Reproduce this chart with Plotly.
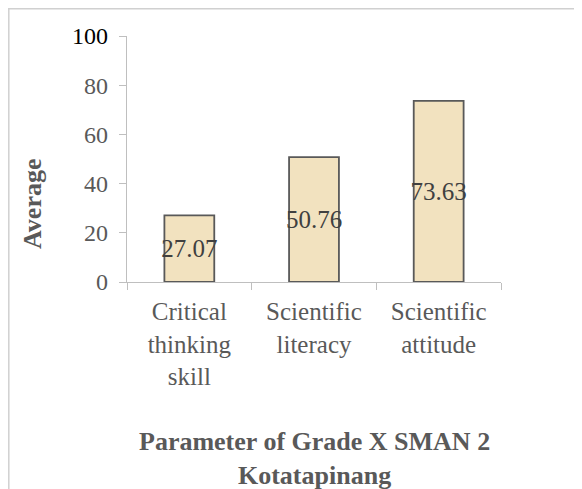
import plotly.graph_objects as go

categories = ["Critical<br>thinking<br>skill", "Scientific<br>literacy", "Scientific<br>attitude"]
values = [27.07, 50.76, 73.63]
value_labels = ["27.07", "50.76", "73.63"]
y_ticks = [0, 20, 40, 60, 80, 100]
y_tick_labels = ["0", "20", "40", "60", "80", '<span style="color:#000000">100</span>']

# the page body has a default 8px margin; compensate so the picture matches pixel positions
OFF = 8
W, H = 582 - OFF, 489 - OFF
L, R, T, B = 127 - OFF, 81, 36 - OFF, 207
pw, ph = W - L - R, H - T - B

def px(x):
    return (x - OFF - L) / pw

def py(y):
    return (H - B - (y - OFF)) / ph

FONT = "Liberation Serif"

fig = go.Figure()
fig.add_trace(go.Bar(
    x=categories, y=values, width=0.4,
    marker=dict(color="#F2E2BF", line=dict(color="#595959", width=1.8)),
    text=value_labels, textposition="inside", insidetextanchor="middle",
    constraintext="none", textangle=0,
    textfont=dict(family=FONT, size=25, color="#404040"),
    hoverinfo="skip",
))

EDGE = OFF + 0.8
fig.update_layout(
    width=W, height=H,
    margin=dict(l=L, r=R, t=T, b=B, pad=0),
    paper_bgcolor="white", plot_bgcolor="white",
    showlegend=False,
    font=dict(family=FONT, color="#595959"),
    xaxis=dict(
        type="category", range=[-0.5, 2.5],
        showline=True, linecolor="#BFBFBF", linewidth=1.3,
        ticks="outside", ticklen=7, tickcolor="#BFBFBF", tickwidth=1.3,
        tickson="boundaries", showgrid=False,
        tickfont=dict(family=FONT, size=25, color="#595959"),
        ticklabelstandoff=7,
    ),
    yaxis=dict(
        range=[0, 100], tickvals=y_ticks, ticktext=y_tick_labels,
        showline=True, linecolor="#BFBFBF", linewidth=1.3,
        ticks="outside", ticklen=7, tickcolor="#BFBFBF", tickwidth=1.3,
        showgrid=False, zeroline=False,
        tickfont=dict(family=FONT, size=24, color="#595959"),
        ticklabelstandoff=6,
    ),
    annotations=[
        dict(text="<b>Average</b>", textangle=-90, xref="paper", yref="paper",
             x=px(33), y=py(204), xanchor="center", yanchor="middle", showarrow=False,
             font=dict(family=FONT, size=26, color="#595959")),
        dict(text="<b>Parameter of Grade X SMAN 2<br>Kotatapinang</b>", xref="paper", yref="paper",
             x=px(314), y=py(425), xanchor="center", yanchor="top", showarrow=False,
             font=dict(family=FONT, size=26, color="#595959")),
    ],
    shapes=[
        dict(type="line", xref="paper", yref="paper", x0=px(OFF), x1=px(582), y0=py(EDGE), y1=py(EDGE),
             line=dict(color="#D0D0D0", width=1.5)),
        dict(type="line", xref="paper", yref="paper", x0=px(EDGE), x1=px(EDGE), y0=py(OFF), y1=py(489),
             line=dict(color="#D0D0D0", width=1.5)),
    ],
)

fig.write_html("out.html")
